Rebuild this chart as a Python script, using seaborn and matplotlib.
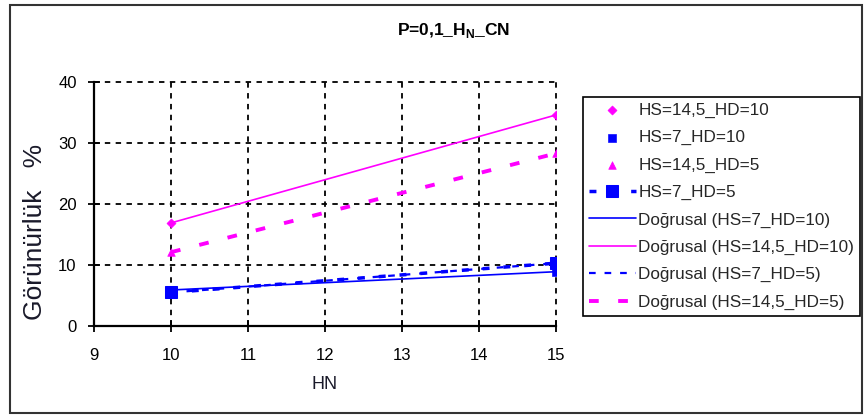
import numpy as np
import pandas as pd
import seaborn as sns
import matplotlib
matplotlib.use("Agg")
import matplotlib.pyplot as plt
from matplotlib.patches import Rectangle

# Measured visibility (%) against HN for each HS/HD combination
hn = [10, 15]
hs145_hd10 = [16.9, 34.6]
hs7_hd10 = [5.9, 8.9]
hs145_hd5 = [12.1, 28.3]
hs7_hd5 = [5.5, 10.3]

x_ticks = [9, 10, 11, 12, 13, 14, 15]
y_ticks = [0, 10, 20, 30, 40]

MAGENTA = "#FF00FF"
BLUE = "#0000FF"

sns.set_theme(style="white")
plt.rcParams["font.family"] = ["Liberation Sans", "DejaVu Sans"]

fig = plt.figure(figsize=(8.67, 4.17), dpi=100)
ax = fig.add_axes([94 / 867, 1 - 326 / 417, (556 - 94) / 867, (326 - 82) / 417])

df = pd.DataFrame({"HN": hn, "a": hs145_hd10, "b": hs7_hd10, "c": hs145_hd5, "d": hs7_hd5})

# Data series markers
sns.scatterplot(data=df, x="HN", y="a", ax=ax, marker="D", s=22, color=MAGENTA,
                edgecolor=MAGENTA, label="HS=14,5_HD=10", zorder=4)
sns.scatterplot(data=df, x="HN", y="b", ax=ax, marker="s", s=30, color=BLUE,
                edgecolor=BLUE, label="HS=7_HD=10", zorder=4)
sns.scatterplot(data=df, x="HN", y="c", ax=ax, marker="^", s=30, color=MAGENTA,
                edgecolor=MAGENTA, label="HS=14,5_HD=5", zorder=4)
sns.lineplot(data=df, x="HN", y="d", ax=ax, marker="s", markersize=9, color=BLUE,
             markeredgecolor=BLUE, linestyle=(0, (2, 4)), linewidth=2.5,
             label="HS=7_HD=5", zorder=4)

# Linear trend lines
x_fit = np.array([min(hn), max(hn)], dtype=float)


def trend(y):
    k, b = np.polyfit(hn, y, 1)
    return k * x_fit + b


trend_df = pd.DataFrame({
    "HN": x_fit,
    "b": trend(hs7_hd10),
    "a": trend(hs145_hd10),
    "d": trend(hs7_hd5),
    "c": trend(hs145_hd5),
})
sns.lineplot(data=trend_df, x="HN", y="b", ax=ax, color=BLUE, linewidth=1.2,
             label="Doğrusal (HS=7_HD=10)", zorder=3)
sns.lineplot(data=trend_df, x="HN", y="a", ax=ax, color=MAGENTA, linewidth=1.2,
             label="Doğrusal (HS=14,5_HD=10)", zorder=3)
sns.lineplot(data=trend_df, x="HN", y="d", ax=ax, color=BLUE, linewidth=1.6,
             linestyle=(0, (3, 4)), label="Doğrusal (HS=7_HD=5)", zorder=3)
sns.lineplot(data=trend_df, x="HN", y="c", ax=ax, color=MAGENTA, linewidth=2.8,
             linestyle=(0, (2.5, 5)), label="Doğrusal (HS=14,5_HD=5)", zorder=3)

ax.set_xlim(9, 15)
ax.set_ylim(0, 40)
ax.set_xticks(x_ticks)
ax.set_yticks(y_ticks)
ax.tick_params(axis="both", direction="inout", length=9, width=1.3, color="black",
               labelsize=12, labelcolor="black", bottom=True, left=True)
ax.tick_params(axis="x", pad=11)
ax.tick_params(axis="y", pad=8)

ax.grid(True, color="black", linestyle=(0, (3, 3)), linewidth=1.3)
ax.set_axisbelow(True)
for g in ax.get_xgridlines() + ax.get_ygridlines():
    g.set_clip_on(False)

for side in ["top", "right"]:
    ax.spines[side].set_visible(False)
for side in ["left", "bottom"]:
    ax.spines[side].set_color("black")
    ax.spines[side].set_linewidth(1.6)
    ax.spines[side].set_zorder(5)

ax.set_xlabel("HN", fontsize=13, color="#1a1a2a", labelpad=10)
ax.set_ylabel("Görünürlük   %", fontsize=19, color="#1a1a2a")
ax.yaxis.set_label_coords(-0.102, (326 - 232) / 244)

fig.text(0.523, 1 - 30 / 417, "P=0,1_H$_{\\mathregular{N}}$_CN", ha="center",
         va="center", fontsize=12.5, fontweight="bold", color="black")

leg = ax.legend(loc="upper left", bbox_to_anchor=(583 / 867, 1 - 97 / 417),
                bbox_transform=fig.transFigure, fontsize=12.3, frameon=True,
                fancybox=False, edgecolor="black", framealpha=1,
                handlelength=2.75, handletextpad=0.15, labelspacing=0.72,
                borderpad=0.33, borderaxespad=0)
leg.get_frame().set_linewidth(1.2)

# Outer chart border
fig.patches.append(Rectangle((10 / 867, 4 / 417), (862 - 10) / 867, (412 - 4) / 417,
                             transform=fig.transFigure, fill=False,
                             edgecolor="#333333", linewidth=1.5))

fig.savefig("out.png", dpi=100)
